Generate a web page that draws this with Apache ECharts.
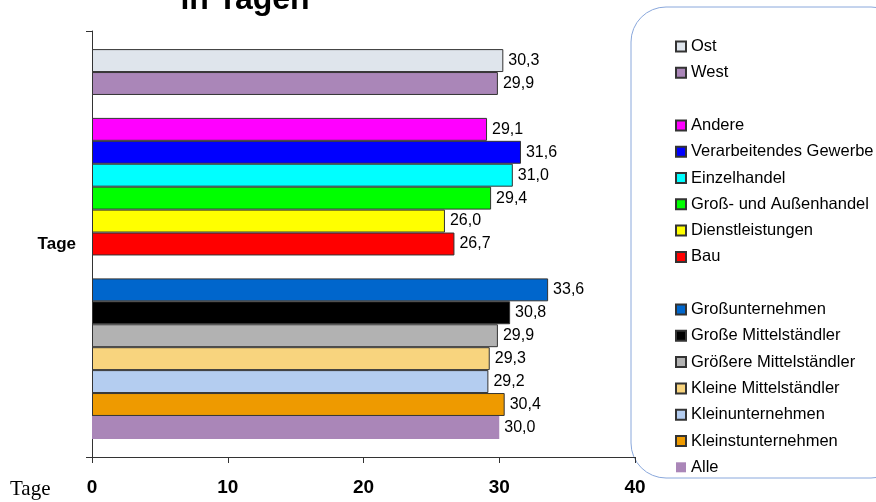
<!DOCTYPE html>
<html>
<head>
<meta charset="utf-8">
<script src="https://cdn.jsdelivr.net/npm/echarts@6/dist/echarts.min.js"></script>
<style>
  html, body { margin: 0; padding: 0; background: #fff; }
  #chart { width: 876px; height: 502px; }
</style>
</head>
<body>
<div id="chart"></div>
<script>
  // eine Kategorie, jede Gruppe als eigene Serie (Leerserien als Abstand)
  let categories = ['Tage']
  let seriesNames = [
    'Ost', 'West', ' ',
    'Andere', 'Verarbeitendes Gewerbe', 'Einzelhandel', 'Groß- und Außenhandel', 'Dienstleistungen', 'Bau', '  ',
    'Großunternehmen', 'Große Mittelständler', 'Größere Mittelständler', 'Kleine Mittelständler',
    'Kleinunternehmen', 'Kleinstunternehmen', 'Alle'
  ]
  let seriesValues = [
    30.3, 29.9, null,
    29.1, 31.6, 31.0, 29.4, 26.0, 26.7, null,
    33.6, 30.8, 29.9, 29.3, 29.2, 30.4, 30.0
  ]
  let seriesColors = [
    '#dfe5ec', '#aa86b8', 'transparent',
    '#ff00ff', '#0000ff', '#00ffff', '#00ff00', '#ffff00', '#ff0000', 'transparent',
    '#0066cc', '#000000', '#b2b2b2', '#f8d47e', '#b4cdf0', '#ee9a00', '#aa86b8'
  ]
  let xTicks = [0, 10, 20, 30, 40]

  let chart = echarts.init(document.getElementById('chart'))

  let series = seriesNames.map((name, i) => {
    let blank = seriesValues[i] === null
    return {
      name: name,
      type: 'bar',
      barGap: '0%',
      barCategoryGap: '8.5%',
      silent: true,
      data: [seriesValues[i]],
      itemStyle: {
        color: seriesColors[i],
        borderColor: blank || name === 'Alle' ? 'transparent' : '#333',
        borderWidth: blank || name === 'Alle' ? 0 : 1
      },
      label: {
        show: !blank,
        position: 'right',
        distance: 5,
        color: '#000',
        fontFamily: 'Liberation Sans',
        fontSize: 16,
        formatter: p => p.value.toFixed(1).replace('.', ',')
      }
    }
  })

  chart.setOption({
    backgroundColor: '#fff',
    animation: false,
    grid: {
      left: 92,
      right: 241,
      top: 31,
      bottom: 45,
      outerBoundsMode: 'none'
    },
    legend: {
      orient: 'vertical',
      left: 670,
      top: 33,
      icon: 'rect',
      itemWidth: 10,
      itemHeight: 10,
      itemGap: 9.3,
      selectedMode: false,
      data: seriesNames,
      textStyle: {
        fontFamily: 'Liberation Sans',
        fontSize: 16.5,
        color: '#000'
      }
    },
    xAxis: {
      type: 'value',
      min: xTicks[0],
      max: xTicks[xTicks.length - 1],
      interval: 10,
      splitLine: { show: false },
      axisLine: { show: true, lineStyle: { color: '#333', width: 1 } },
      axisTick: { show: true, length: 6, lineStyle: { color: '#333' } },
      axisLabel: {
        margin: 21,
        color: '#000',
        fontFamily: 'Liberation Sans',
        fontWeight: 'bold',
        fontSize: 19
      }
    },
    yAxis: {
      type: 'category',
      inverse: true,
      data: categories,
      axisLine: { show: true, lineStyle: { color: '#333', width: 1 } },
      axisTick: { show: true, length: 6, lineStyle: { color: '#333' } },
      axisLabel: {
        margin: 16,
        color: '#000',
        fontFamily: 'Liberation Sans',
        fontWeight: 'bold',
        fontSize: 17
      }
    },
    graphic: [
      {
        type: 'text',
        x: 245,
        y: 16,
        style: {
          text: 'in Tagen',
          textAlign: 'center',
          textVerticalAlign: 'bottom',
          fontFamily: 'Liberation Sans',
          fontWeight: 'bold',
          fontSize: 32,
          fill: '#000'
        }
      },
      {
        type: 'text',
        x: 10,
        y: 489,
        style: {
          text: 'Tage',
          textVerticalAlign: 'middle',
          fontFamily: 'Liberation Serif',
          fontSize: 21,
          fill: '#000'
        }
      },
      {
        type: 'rect',
        x: 631,
        y: 7,
        shape: { x: 0, y: 0, width: 275, height: 471, r: 35 },
        style: { fill: 'none', stroke: '#8aa8dc', lineWidth: 1 }
      }
    ],
    series: series
  })
</script>
</body>
</html>
